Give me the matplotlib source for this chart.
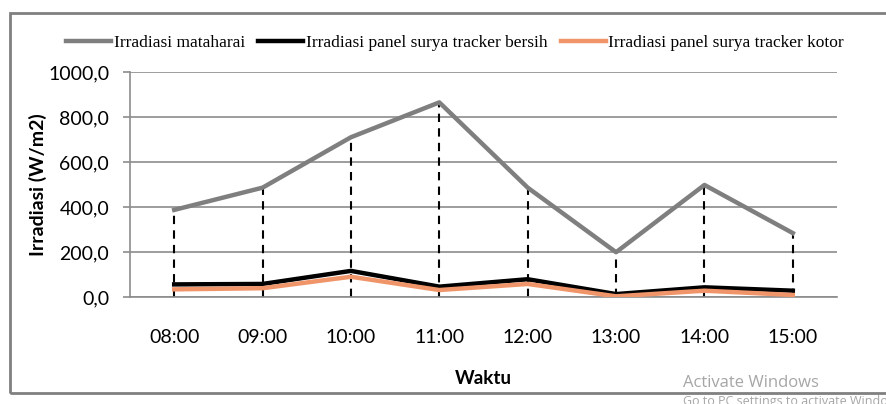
import matplotlib
matplotlib.use("Agg")
import matplotlib.pyplot as plt
from matplotlib.ticker import FuncFormatter
from matplotlib.patches import Rectangle

# data
waktu = ["08:00", "09:00", "10:00", "11:00", "12:00", "13:00", "14:00", "15:00"]
matahari = [387, 486, 710, 865, 486, 199, 498, 284]
tracker_bersih = [56, 58, 116, 46, 79, 13, 43, 28]
tracker_kotor = [34, 39, 90, 31, 58, 3, 28, 9]

W, H = 887, 404
fig = plt.figure(figsize=(W / 100, H / 100), dpi=100)
ax = fig.add_axes([130 / W, 1 - 297 / H, 707 / W, 225 / H])

x = list(range(len(waktu)))

# drop lines from the top series down to zero
ax.vlines(x, 0, matahari, colors="black", linestyles=(0, (4, 3)), lw=1.5, zorder=2)

ax.plot(x, matahari, color="#7f7f7f", lw=3.2, label="Irradiasi mataharai", zorder=3)
ax.plot(x, tracker_bersih, color="black", lw=3.2, label="Irradiasi panel surya tracker bersih",
        zorder=4)
ax.plot(x, tracker_kotor, color="#f0956a", lw=3.2, label="Irradiasi panel surya tracker kotor",
        zorder=5)

ax.set_xlim(-0.5, len(waktu) - 0.5)
ax.set_ylim(0, 1000)
ax.set_yticks(range(0, 1001, 200))
ax.yaxis.set_major_formatter(FuncFormatter(lambda v, p: f"{v:.1f}".replace(".", ",")))
ax.set_xticks(x)
ax.set_xticklabels(waktu)

ax.grid(axis="y", color="#8c8c8c", lw=1.2, zorder=0)
for s in ["top", "right"]:
    ax.spines[s].set_visible(False)
for s in ["left", "bottom"]:
    ax.spines[s].set_color("#8c8c8c")
    ax.spines[s].set_linewidth(1.2)

ax.tick_params(axis="y", length=5, width=1.2, color="#8c8c8c", pad=10,
               labelsize=14, labelcolor="black")
ax.tick_params(axis="x", length=0, pad=23, labelsize=14)
for lab in ax.get_xticklabels() + ax.get_yticklabels():
    lab.set_family("Lato")

ax.set_ylabel("Irradiasi (W/m2)", fontsize=14, fontweight="bold", family="Lato")
ax.yaxis.set_label_coords((38 - 130) / 707, 0.5)
ax.yaxis.label.set_va("center")
ax.set_xlabel("Waktu", fontsize=13.5, fontweight="bold", family="Lato")
ax.xaxis.set_label_coords(0.5, (297 - 378) / 225)
ax.xaxis.label.set_va("center")

leg = fig.legend(loc="center", bbox_to_anchor=(455 / W, 1 - 43 / H), ncol=3, frameon=False,
                 prop={"family": "Liberation Serif", "size": 12.5}, handlelength=2.6,
                 handletextpad=0.15, columnspacing=0.75)

# chart border
fig.patches.append(Rectangle((10 / W, 1 - 393 / H), 1.0, (393 - 13) / H,
                             transform=fig.transFigure, fill=False,
                             edgecolor="#808080", lw=2, clip_on=False))

# watermark
fig.text(683 / W, 1 - 383 / H, "Activate Windows", color="#a6a6a6", fontsize=12,
         va="center", ha="left", family="Open Sans")
fig.text(683 / W, 1 - 401 / H, "Go to PC settings to activate Windows", color="#a6a6a6",
         fontsize=9, va="center", ha="left", family="Open Sans")

fig.savefig("out.png", dpi=100)
